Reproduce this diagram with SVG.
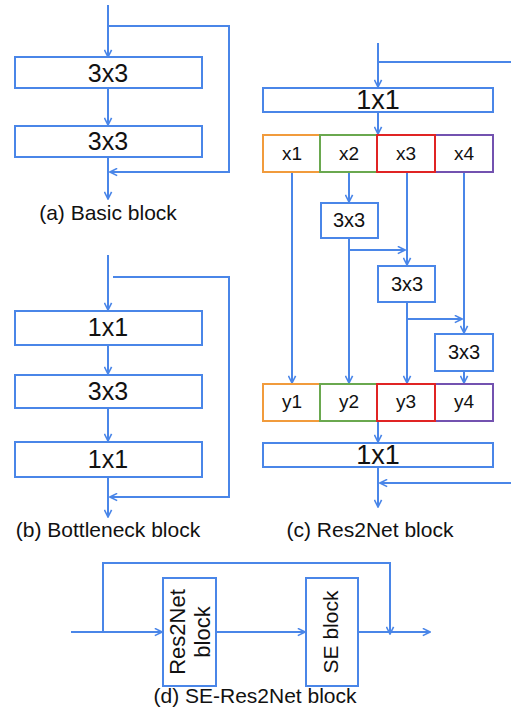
<svg xmlns="http://www.w3.org/2000/svg" width="511" height="717" viewBox="0 0 511 717">
  <style>
    .box { fill: #ffffff; stroke: #4a86e8; stroke-width: 2; }
    .wire { fill: none; stroke: #4a86e8; stroke-width: 2; }
    .arr { marker-end: url(#arrow); }
    text { font-family: "Liberation Sans", Arial, sans-serif; fill: #111111; text-anchor: middle; }
    .big { font-size: 25px; }
    .huge { font-size: 27px; }
    .small { font-size: 19px; }
    .mid { font-size: 20px; }
    .cap { font-size: 21px; }
  </style>
  <defs>
    <marker id="arrow" viewBox="0 0 10 10" refX="9" refY="5" markerWidth="9" markerHeight="9" markerUnits="userSpaceOnUse" orient="auto">
      <path d="M1,1 L9,5 L1,9" fill="none" stroke="#4a86e8" stroke-width="1.8"/>
    </marker>
  </defs>

  <rect width="511" height="717" fill="#ffffff"/>

  <!-- connectors -->
  <g id="connectors">
    <!-- (a) basic block -->
    <path class="wire arr" d="M108,5 V57"/>
    <path class="wire arr" d="M108,88 V125"/>
    <path class="wire arr" d="M108,157 V199"/>
    <path class="wire arr" d="M108,26 H229 V172 H110"/>

    <!-- (b) bottleneck block -->
    <path class="wire arr" d="M108,255 V310"/>
    <path class="wire arr" d="M108,345 V374"/>
    <path class="wire arr" d="M108,408 V441"/>
    <path class="wire arr" d="M108,477 V517"/>
    <path class="wire arr" d="M113,277 H229 V497 H110"/>

    <!-- (c) Res2Net block -->
    <path class="wire arr" d="M378,43 V87"/>
    <path class="wire" d="M378,62 H511"/>
    <path class="wire arr" d="M378,112 V134"/>
    <path class="wire arr" d="M292,172 V383"/>
    <path class="wire arr" d="M349,172 V202"/>
    <path class="wire arr" d="M349,238 V383"/>
    <path class="wire arr" d="M349,250 H405"/>
    <path class="wire arr" d="M407,172 V265"/>
    <path class="wire arr" d="M407,302 V383"/>
    <path class="wire arr" d="M407,319 H462"/>
    <path class="wire arr" d="M464,172 V333"/>
    <path class="wire arr" d="M464,371 V383"/>
    <path class="wire arr" d="M378,421 V442"/>
    <path class="wire arr" d="M378,467 V507"/>
    <path class="wire arr" d="M511,483 H380"/>

    <!-- (d) SE-Res2Net block -->
    <path class="wire arr" d="M71,632 H162"/>
    <path class="wire arr" d="M216,632 H305"/>
    <path class="wire arr" d="M358,632 H430"/>
    <path class="wire arr" d="M103,632 V563 H390 V634"/>
  </g>

  <!-- (a) basic block -->
  <g id="a-conv1">
    <rect class="box" x="15" y="57" width="187" height="31"/>
    <text class="big" x="108" y="82">3x3</text>
  </g>
  <g id="a-conv2">
    <rect class="box" x="15" y="126" width="187" height="31"/>
    <text class="big" x="108" y="150">3x3</text>
  </g>
  <text class="cap" x="108" y="220">(a) Basic block</text>

  <!-- (b) bottleneck block -->
  <g id="b-conv1">
    <rect class="box" x="15" y="311" width="187" height="34"/>
    <text class="big" x="108" y="336">1x1</text>
  </g>
  <g id="b-conv2">
    <rect class="box" x="15" y="375" width="187" height="33"/>
    <text class="big" x="108" y="400">3x3</text>
  </g>
  <g id="b-conv3">
    <rect class="box" x="15" y="442" width="187" height="35"/>
    <text class="big" x="108" y="468">1x1</text>
  </g>
  <text class="cap" x="108" y="537">(b) Bottleneck block</text>

  <!-- (c) Res2Net block -->
  <g id="c-conv-in">
    <rect class="box" x="263" y="88" width="230" height="24"/>
    <text class="huge" x="378" y="109">1x1</text>
  </g>
  <g id="c-x1">
    <rect x="263" y="135" width="57" height="37" fill="#fff" stroke="#f19b3c" stroke-width="2"/>
    <text class="small" x="292" y="160">x1</text>
  </g>
  <g id="c-x2">
    <rect x="320" y="135" width="57" height="37" fill="#fff" stroke="#6aa84f" stroke-width="2"/>
    <text class="small" x="349" y="160">x2</text>
  </g>
  <g id="c-x4">
    <rect x="435" y="135" width="58" height="37" fill="#fff" stroke="#7352b0" stroke-width="2"/>
    <text class="small" x="464" y="160">x4</text>
  </g>
  <g id="c-x3">
    <rect x="377" y="135" width="58" height="37" fill="#fff" stroke="#e02424" stroke-width="2"/>
    <text class="small" x="406" y="160">x3</text>
  </g>
  <g id="c-k2">
    <rect class="box" x="321" y="203" width="57" height="35"/>
    <text class="mid" x="349" y="227">3x3</text>
  </g>
  <g id="c-k3">
    <rect class="box" x="378" y="266" width="57" height="36"/>
    <text class="mid" x="407" y="291">3x3</text>
  </g>
  <g id="c-k4">
    <rect class="box" x="435" y="334" width="58" height="37"/>
    <text class="mid" x="464" y="359">3x3</text>
  </g>
  <g id="c-y1">
    <rect x="263" y="384" width="57" height="37" fill="#fff" stroke="#f19b3c" stroke-width="2"/>
    <text class="small" x="292" y="408">y1</text>
  </g>
  <g id="c-y2">
    <rect x="320" y="384" width="57" height="37" fill="#fff" stroke="#6aa84f" stroke-width="2"/>
    <text class="small" x="349" y="408">y2</text>
  </g>
  <g id="c-y4">
    <rect x="435" y="384" width="58" height="37" fill="#fff" stroke="#7352b0" stroke-width="2"/>
    <text class="small" x="464" y="408">y4</text>
  </g>
  <g id="c-y3">
    <rect x="377" y="384" width="58" height="37" fill="#fff" stroke="#e02424" stroke-width="2"/>
    <text class="small" x="406" y="408">y3</text>
  </g>
  <g id="c-conv-out">
    <rect class="box" x="263" y="443" width="230" height="24"/>
    <text class="huge" x="378" y="464">1x1</text>
  </g>
  <text class="cap" x="370" y="537">(c) Res2Net block</text>

  <!-- (d) SE-Res2Net block -->
  <g id="d-res2net">
    <rect class="box" x="163" y="578" width="53" height="108"/>
    <text font-size="22" transform="translate(189.5,632) rotate(-90)"><tspan x="0" y="-4.5">Res2Net</tspan><tspan x="0" y="20.5">block</tspan></text>
  </g>
  <g id="d-se">
    <rect class="box" x="306" y="578" width="52" height="108"/>
    <text font-size="21" transform="translate(332,632) rotate(-90)" x="0" y="6">SE block</text>
  </g>
  <text class="cap" x="255" y="703">(d) SE-Res2Net block</text>
</svg>
